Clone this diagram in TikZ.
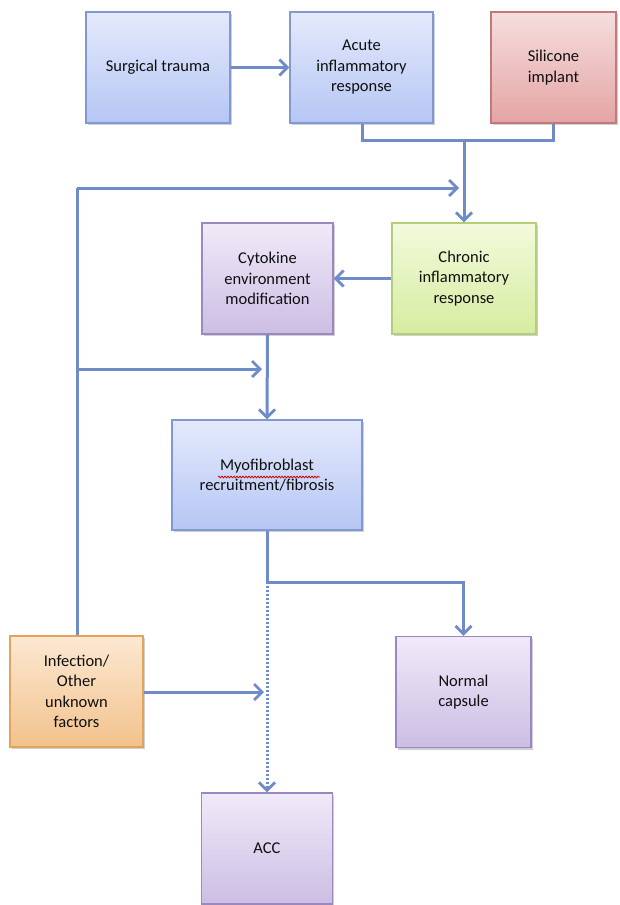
\documentclass[tikz,border=0pt]{standalone}
\usepackage{fontspec}
\setmainfont{Carlito}
\usetikzlibrary{arrows.meta,shadows,decorations.pathmorphing}
\definecolor{conn}{RGB}{112,140,200}
\definecolor{bluetop}{RGB}{228,234,252}
\definecolor{bluebot}{RGB}{182,198,244}
\definecolor{blueedge}{RGB}{130,152,210}
\definecolor{redtop}{RGB}{246,222,222}
\definecolor{redbot}{RGB}{228,164,164}
\definecolor{rededge}{RGB}{196,120,120}
\definecolor{purtop}{RGB}{240,234,248}
\definecolor{purbot}{RGB}{204,190,228}
\definecolor{puredge}{RGB}{156,136,192}
\definecolor{grntop}{RGB}{242,250,220}
\definecolor{grnbot}{RGB}{214,236,160}
\definecolor{grnedge}{RGB}{178,206,120}
\definecolor{orgtop}{RGB}{252,232,210}
\definecolor{orgbot}{RGB}{242,194,140}
\definecolor{orgedge}{RGB}{226,164,90}
\definecolor{txt}{RGB}{15,15,15}
\tikzset{
  boxbase/.style={draw, line width=1.3pt, minimum height=111pt, align=center,
    text=txt, font=\fontsize{16.5}{20.5}\selectfont, inner sep=2pt,
    drop shadow={shadow xshift=1.5pt, shadow yshift=-2pt, opacity=0.3, fill=black!60}},
  bluebox/.style={boxbase, draw=blueedge, top color=bluetop, bottom color=bluebot},
  redbox/.style={boxbase, draw=rededge, top color=redtop, bottom color=redbot},
  purbox/.style={boxbase, draw=puredge, top color=purtop, bottom color=purbot},
  grnbox/.style={boxbase, draw=grnedge, top color=grntop, bottom color=grnbot},
  orgbox/.style={boxbase, draw=orgedge, top color=orgtop, bottom color=orgbot},
  conline/.style={draw=conn, line width=3pt},
  tipstyle/.style={-{Straight Barb[length=8pt,width=16pt,line width=2.8pt]}},
  conarrow/.style={conline, tipstyle},
  dotline/.style={draw=conn, line width=3pt, dash pattern=on 2pt off 2pt},
}
\begin{document}
\begin{tikzpicture}[x=1pt,y=-1pt]
\useasboundingbox[fill=white] (0,0) rectangle (619,905);
% boxes
\node[bluebox, minimum width=144pt] (st) at (158,67.5) {Surgical trauma};
\node[bluebox, minimum width=143pt] (acute) at (361.5,67.5) {Acute\\inflammatory\\response};
\node[redbox, minimum width=125pt] (sil) at (553.5,67.5) {Silicone\\implant};
\node[grnbox, minimum width=144pt] (chr) at (464,278.5) {Chronic\\inflammatory\\response};
\node[purbox, minimum width=131pt] (cyto) at (267.5,278.5) {Cytokine\\environment\\modification};
\node[bluebox, minimum width=190pt, minimum height=110pt] (myo) at (267,475) {Myofibroblast\\recruitment/fibrosis};
\node[orgbox, minimum width=133pt] (inf) at (76.5,691.5) {Infection/\\Other\\unknown\\factors};
\node[purbox, minimum width=135pt] (norm) at (463.5,692) {Normal\\capsule};
\node[purbox, minimum width=131pt] (acc) at (267,848.5) {ACC};
% spell-check underline
\draw[red!85!black, line width=0.8pt, decorate, decoration={snake, amplitude=0.8pt, segment length=3pt}] (218,477) -- (320,477);
% coordinates
\coordinate (j1) at (464,140);
\coordinate (fb1) at (77,188);
\coordinate (fb2) at (77,369);
\coordinate (j2) at (267,582);
% connectors
\draw[conarrow] (st) -- (acute);
\draw[conline] (acute.south -| 362,0) |- (j1) -| (sil.south);
\draw[conarrow] (j1) -- (chr.north -| j1);
\draw[conline] (inf.north -| fb1) -- (fb1);
\draw[conarrow] (fb1) -- (459,188);
\draw[conarrow] (fb2) -- (262,369);
\draw[conarrow] (chr.west) -- (cyto.east);
\draw[conarrow] (cyto.south) -- (myo.north);
\draw[conline] (myo.south) -- (j2);
\draw[conarrow] (j2) -| (norm.north);
\draw[dotline, tipstyle] (j2) -- (acc.north);
\draw[conarrow] (inf.east |- 0,692) -- (264,692);
\end{tikzpicture}
\end{document}
